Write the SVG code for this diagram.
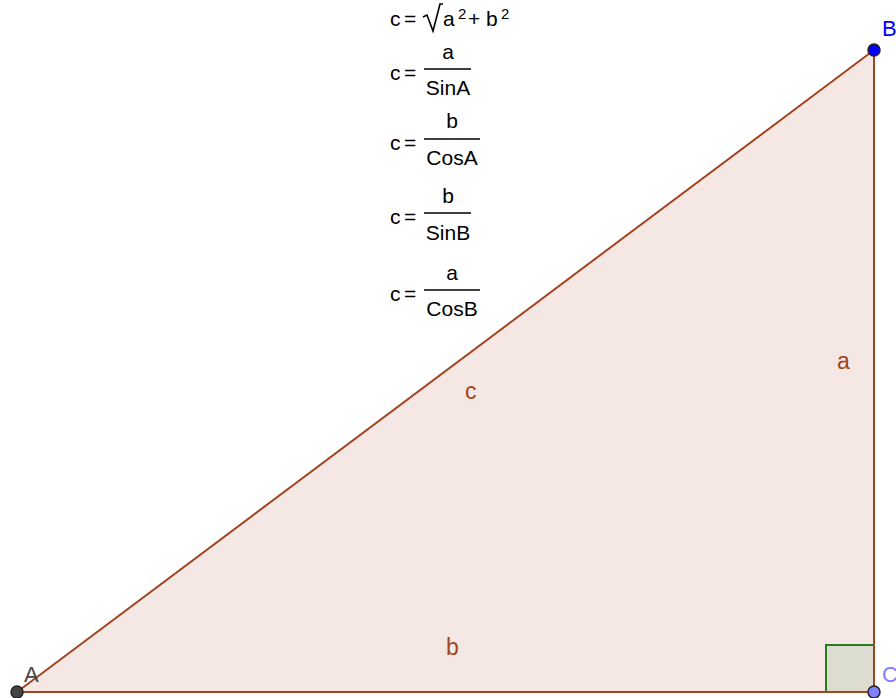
<svg xmlns="http://www.w3.org/2000/svg" width="896" height="698" viewBox="0 0 896 698">
<style>
text{font-family:"Liberation Sans",Arial,sans-serif;}
.f{font-size:21px;fill:#000;}
.fl{stroke:#000;stroke-width:1.5;}
.edge{stroke:#a0461e;stroke-width:2;fill:none;stroke-linecap:round;}
.lbl{font-size:23px;fill:#a0461e;}
.pt{stroke:#222;stroke-width:1.5;}
.sup{font-size:15px;fill:#000;}
</style>
<rect width="896" height="698" fill="#fff"/>
<g id="triangle">
<polygon points="17,692 874,50 874,692" fill="#f5e8e4"/>
</g>
<g id="rightangle">
<rect x="826" y="645" width="48" height="47" fill="#dcdcd0"/>
<path d="M826,692 V645 H874" fill="none" stroke="#2a7a1e" stroke-width="2"/>
</g>
<g id="connectors">
<line class="edge" x1="17" y1="692" x2="874" y2="50"/>
<line class="edge" x1="874" y1="50" x2="874" y2="692"/>
<line class="edge" x1="17" y1="692" x2="874" y2="692"/>
</g>
<g id="side-labels">
<text class="lbl" x="465" y="399">c</text>
<text class="lbl" x="837" y="369">a</text>
<text class="lbl" x="446" y="655">b</text>
</g>
<g id="formulas">
<g id="f1">
<text class="f" x="390" y="26">c</text>
<text class="f" x="404" y="26">=</text>
<path d="M423,17 L427,15 L433,31 L440,4 H443" fill="none" stroke="#000" stroke-width="1.6"/>
<text class="f" x="443" y="26">a</text>
<text class="sup" x="458" y="19">2</text>
<text class="f" x="468" y="26">+</text>
<text class="f" x="486" y="26">b</text>
<text class="sup" x="501" y="19">2</text>
</g>
<g id="f2">
<text class="f" x="390" y="80">c</text>
<text class="f" x="404" y="80">=</text>
<text class="f" x="448" y="59" text-anchor="middle">a</text>
<line class="fl" x1="424" y1="69" x2="471" y2="69"/>
<text class="f" x="448" y="95" text-anchor="middle">SinA</text>
</g>
<g id="f3">
<text class="f" x="390" y="150">c</text>
<text class="f" x="404" y="150">=</text>
<text class="f" x="452" y="128" text-anchor="middle">b</text>
<line class="fl" x1="424" y1="139" x2="480" y2="139"/>
<text class="f" x="452" y="165" text-anchor="middle">CosA</text>
</g>
<g id="f4">
<text class="f" x="390" y="224">c</text>
<text class="f" x="404" y="224">=</text>
<text class="f" x="448" y="203" text-anchor="middle">b</text>
<line class="fl" x1="424" y1="213" x2="471" y2="213"/>
<text class="f" x="448" y="240" text-anchor="middle">SinB</text>
</g>
<g id="f5">
<text class="f" x="390" y="301">c</text>
<text class="f" x="404" y="301">=</text>
<text class="f" x="452" y="280" text-anchor="middle">a</text>
<line class="fl" x1="424" y1="290" x2="480" y2="290"/>
<text class="f" x="452" y="316" text-anchor="middle">CosB</text>
</g>
</g>
<g id="A">
<circle class="pt" cx="17" cy="692" r="6" fill="#444"/>
<text x="24" y="682" style="font-size:22px;fill:#444">A</text>
</g>
<g id="B">
<circle class="pt" cx="874" cy="50" r="6" fill="#0000ff"/>
<text x="882" y="36" style="font-size:22px;fill:#0000ff">B</text>
</g>
<g id="C">
<circle class="pt" cx="874" cy="692" r="6" fill="#7f7fff"/>
<text x="882" y="682" style="font-size:22px;fill:#7f7fff">C</text>
</g>
</svg>
